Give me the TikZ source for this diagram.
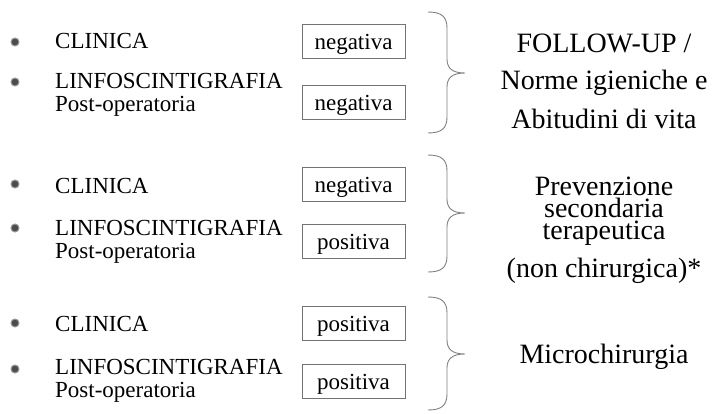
\documentclass[tikz,border=0pt]{standalone}
\usepackage{fontspec}
\setmainfont{Liberation Serif}
\newfontfamily\tmsfont{Liberation Serif}
\begin{document}
\begin{tikzpicture}[x=1pt,y=-1pt,
  lbl/.style={anchor=base west,inner sep=0pt,font=\tmsfont\fontsize{23}{26}\selectfont},
  resbox/.style={draw=black!55,line width=0.9pt,minimum width=103pt,minimum height=34pt,inner sep=0pt,text height=19pt,text depth=3pt,font=\tmsfont\fontsize{23}{26}\selectfont},
  bul/.style={circle,fill=black!70,draw=black!40,line width=1pt,minimum size=8pt,inner sep=0pt},
  res/.style={anchor=base,inner sep=0pt,text height=17pt,text depth=5pt,font=\tmsfont\fontsize{28}{30}\selectfont},
  brc/.style={draw=black!50,line width=0.9pt}]
\useasboundingbox (0,0) rectangle (716,413);
\newcommand{\mybrace}[3]{%
  \draw[brc] (428,#1) .. controls (442,#1) and (447,#1+5) .. (447,#1+16)
    -- (447,#2-14) .. controls (447,#2-5) and (452,#2) .. (465,#2)
    .. controls (452,#2) and (447,#2+5) .. (447,#2+14)
    -- (447,#3-16) .. controls (447,#3-5) and (442,#3) .. (428,#3);}
% group 1
\node[bul] (b1a) at (15,42) {};
\node[bul] (b1b) at (15,82) {};
\node[lbl] (c1) at (55,48) {CLINICA};
\node[lbl] (l1) at (55,88) {LINFOSCINTIGRAFIA};
\node[lbl] (p1) at (55,111) {Post-operatoria};
\node[resbox] (x1a) at (353.5,41) {negativa};
\node[resbox] (x1b) at (353.5,102) {negativa};
\mybrace{12}{73}{133}
\node[res] (r1a) at (604,52) {FOLLOW-UP /};
\node[res] (r1b) at (604,89) {Norme igieniche e};
\node[res] (r1c) at (604,128) {Abitudini di vita};
% group 2
\node[bul] (b2a) at (15,184) {};
\node[bul] (b2b) at (15,228) {};
\node[lbl] (c2) at (55,193) {CLINICA};
\node[lbl] (l2) at (55,235) {LINFOSCINTIGRAFIA};
\node[lbl] (p2) at (55,258) {Post-operatoria};
\node[resbox] (x2a) at (353.5,184) {negativa};
\node[resbox] (x2b) at (353.5,241) {positiva};
\mybrace{155}{213}{272}
\node[res] (r2a) at (604,195) {Prevenzione};
\node[res] (r2b) at (604,217) {secondaria};
\node[res] (r2c) at (604,239) {terapeutica};
\node[res] (r2d) at (604,277) {(non chirurgica)*};
% group 3
\node[bul] (b3a) at (15,323) {};
\node[bul] (b3b) at (15,369) {};
\node[lbl] (c3) at (55,331) {CLINICA};
\node[lbl] (l3) at (55,374) {LINFOSCINTIGRAFIA};
\node[lbl] (p3) at (55,397) {Post-operatoria};
\node[resbox] (x3a) at (353.5,323) {positiva};
\node[resbox] (x3b) at (353.5,381) {positiva};
\mybrace{297}{354}{410}
\node[res] (r3a) at (604,363) {Microchirurgia};
\end{tikzpicture}
\end{document}
